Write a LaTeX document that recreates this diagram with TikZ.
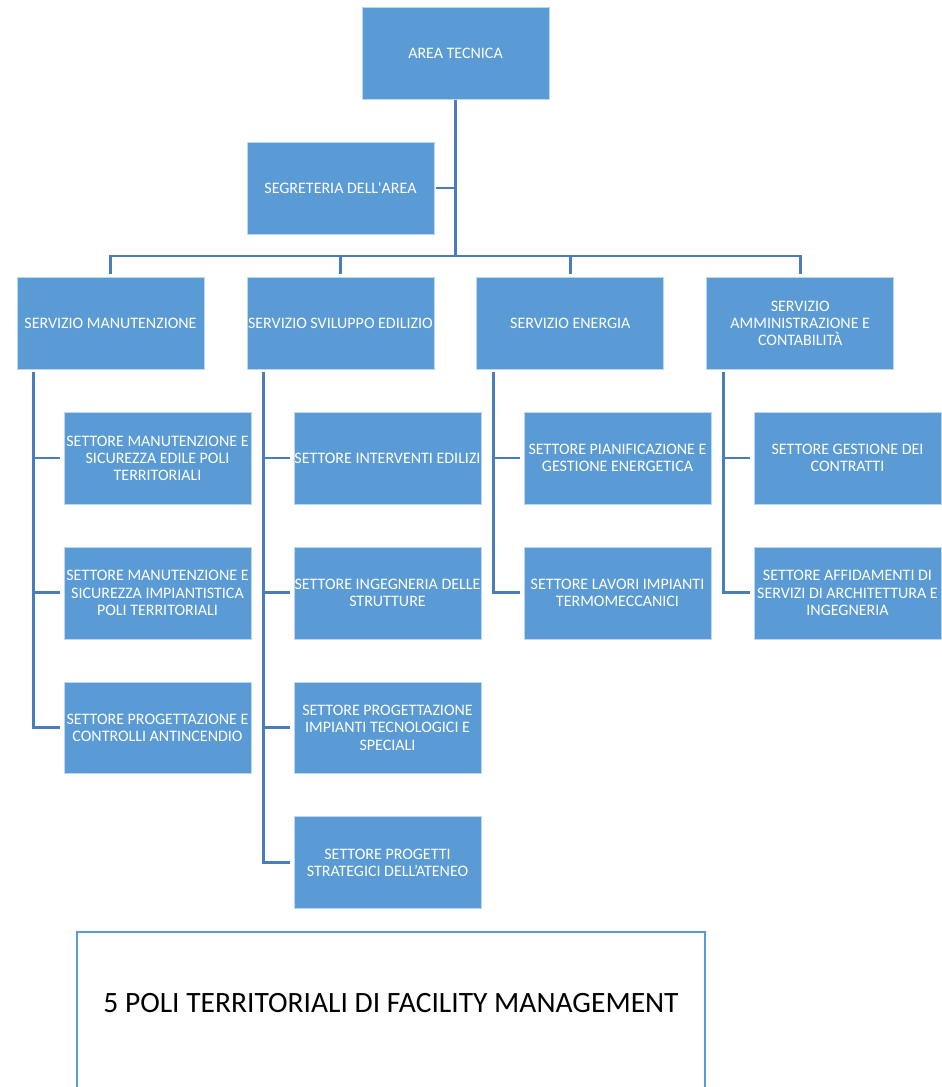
\documentclass[tikz,border=0pt]{standalone}
\usepackage{fontspec}
\setmainfont{Carlito}[Ligatures=TeXOff]
\usetikzlibrary{positioning, backgrounds, calc}
\definecolor{boxblue}{RGB}{91,155,213}
\definecolor{linkblue}{RGB}{74,126,187}
\tikzset{
	unit/.style={draw=white!60!boxblue, line width=0.4pt, fill=boxblue, text=white,
		minimum width=3.74cm, minimum height=1.84cm, inner xsep=0pt, align=center,
		font=\fontsize{9.1}{9.75}\selectfont},
	link/.style={draw=linkblue, line width=1.7pt, line cap=rect},
}

\begin{document}
\begin{tikzpicture}[x=0.02cm, y=-0.02cm]
	\useasboundingbox (0,0) rectangle (941,1087);
	\node[unit] (area) at (455.5,53) {AREA TECNICA};
	\node[unit] (segr) at (340.5,188) {SEGRETERIA DELL'AREA};
	% servizi
	\node[unit] (man) at (110.5,323) {SERVIZIO MANUTENZIONE};
	\node[unit, right=0.845cm of man] (svi) {SERVIZIO SVILUPPO EDILIZIO};
	\node[unit, right=0.845cm of svi] (ene) {SERVIZIO ENERGIA};
	\node[unit, right=0.845cm of ene] (amm) {SERVIZIO\\AMMINISTRAZIONE E\\CONTABILITÀ};
	% settori
	\node[unit] (m1) at (157.5,458) {SETTORE MANUTENZIONE E\\SICUREZZA EDILE POLI\\TERRITORIALI};
	\node[unit, below=0.845cm of m1] (m2) {SETTORE MANUTENZIONE E\\SICUREZZA IMPIANTISTICA\\POLI TERRITORIALI};
	\node[unit, below=0.845cm of m2] (m3) {SETTORE PROGETTAZIONE E\\CONTROLLI ANTINCENDIO};
	\node[unit] (s1) at (387.5,458) {SETTORE INTERVENTI EDILIZI};
	\node[unit, below=0.845cm of s1] (s2) {SETTORE INGEGNERIA DELLE\\STRUTTURE};
	\node[unit, below=0.845cm of s2] (s3) {SETTORE PROGETTAZIONE\\IMPIANTI TECNOLOGICI E\\SPECIALI};
	\node[unit, below=0.845cm of s3] (s4) {SETTORE PROGETTI\\STRATEGICI DELL’ATENEO};
	\node[unit] (e1) at (617.5,458) {SETTORE PIANIFICAZIONE E\\GESTIONE ENERGETICA};
	\node[unit, below=0.845cm of e1] (e2) {SETTORE LAVORI IMPIANTI\\TERMOMECCANICI};
	\node[unit] (a1) at (847.5,458) {SETTORE GESTIONE DEI\\CONTRATTI};
	\node[unit, below=0.845cm of a1] (a2) {SETTORE AFFIDAMENTI DI\\SERVIZI DI ARCHITETTURA E\\INGEGNERIA};
	% poli
	\node[font=\fontsize{16.8}{20}\selectfont] (poli) at (391,1003) {5 POLI TERRITORIALI DI FACILITY MANAGEMENT};
	\draw[draw=boxblue, line width=1.1pt] (77,1100) |- (705,932) -- (705,1100);
	\begin{scope}[on background layer]
	\coordinate (bar) at (0,256);
	\draw[link] (area.south) -- (area.south |- bar);
	\draw[link, shorten <=0.06cm] (segr.east) -- (segr.east -| area.south);
	\draw[link] (man.north |- bar) -- (amm.north |- bar);
	\foreach \s in {man,svi,ene,amm}
		\draw[link, shorten <=0.08cm] (\s.north) -- (\s.north |- bar);
	\coordinate (sp1) at ($(man.south west)+(17,4)$);
	\coordinate (sp2) at ($(svi.south west)+(17,4)$);
	\coordinate (sp3) at ($(ene.south west)+(17,4)$);
	\coordinate (sp4) at ($(amm.south west)+(17,4)$);
	\draw[link] (sp1) -- (sp1 |- m3.west);
	\draw[link] (sp2) -- (sp2 |- s4.west);
	\draw[link] (sp3) -- (sp3 |- e2.west);
	\draw[link] (sp4) -- (sp4 |- a2.west);
	\foreach \n in {m1,m2,m3}
		\draw[link, shorten >=0.1cm] (sp1 |- \n.west) -- (\n.west);
	\foreach \n in {s1,s2,s3,s4}
		\draw[link, shorten >=0.1cm] (sp2 |- \n.west) -- (\n.west);
	\foreach \n in {e1,e2}
		\draw[link, shorten >=0.1cm] (sp3 |- \n.west) -- (\n.west);
	\foreach \n in {a1,a2}
		\draw[link, shorten >=0.1cm] (sp4 |- \n.west) -- (\n.west);
	\end{scope}
\end{tikzpicture}
\end{document}
